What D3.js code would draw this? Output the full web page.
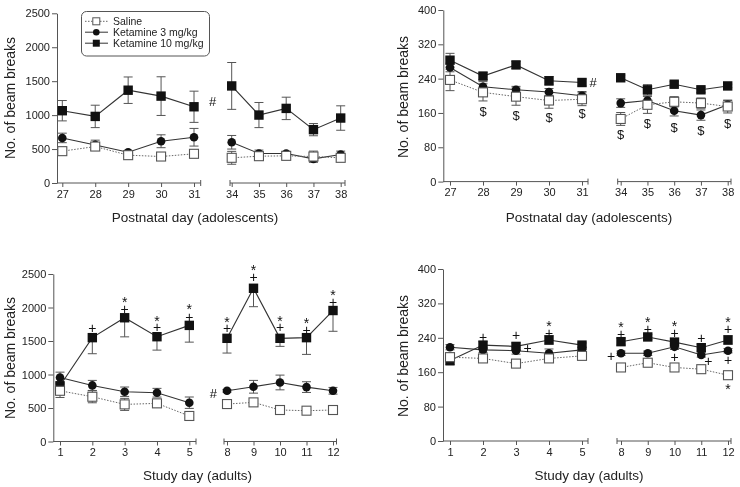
<!DOCTYPE html>
<html><head><meta charset="utf-8">
<script src="https://cdn.jsdelivr.net/npm/d3@7"></script>
<style>
body{margin:0;background:#fff;}
svg{will-change:transform;}
text{font-family:"Liberation Sans",Arial,sans-serif;}
</style></head>
<body><svg id="chart" width="740" height="487"></svg>
<script>
// ---------- DATA ----------
const adolDays1 = [27,28,29,30,31];
const adolDays2 = [34,35,36,37,38];
const adultDays1 = [1,2,3,4,5];
const adultDays2 = [8,9,10,11,12];
const seriesNames = ["Saline","Ketamine 3 mg/kg","Ketamine 10 mg/kg"];

const yTicksLeft = [0,500,1000,1500,2000,2500];
const yTicksRight = [0,80,160,240,320,400];

// Panel A: adolescents, left
const salineA = [469,537,410,390,430,371,395,400,390,371];
const salineAErr = [50,50,30,20,50,95,30,30,80,30];
const k3A = [664,561,454,615,674,600,435,435,356,420];
const k3AErr = [70,70,20,95,130,100,50,30,50,50];
const k10A = [1065,981,1367,1280,1123,1430,1001,1099,786,957];
const k10AErr = [150,165,195,285,230,345,185,165,90,180];

// Panel B: adolescents, right
const salineB = [237,208,198,189,192,146,179,186,183,175];
const salineBErr = [25,20,20,18,15,15,20,12,12,15];
const k3B = [266,221,214,209,200,183,189,165,155,179];
const k3BErr = [10,12,8,8,10,10,10,12,12,10];
const k10B = [283,246,272,235,231,242,214,227,214,223];
const k10BErr = [16,8,8,10,8,6,12,6,6,4];

// Panel C: adults, left
const salineC = [757,668,554,569,381,559,584,470,460,470];
const salineCErr = [100,90,90,60,30,15,40,30,40,50];
const k3C = [955,837,743,728,579,757,817,881,812,757];
const k3CErr = [80,75,70,65,85,20,95,110,80,50];
const k10C = [832,1550,1847,1564,1733,1540,2287,1540,1550,1955];
const k10CErr = [60,240,285,200,250,220,275,120,250,310];

// Panel D: adults, right
const salineD = [195,192,180,192,198,171,182,171,167,153];
const salineDErr = [10,6,8,8,5,5,6,5,5,8];
const k3D = [218,212,210,204,212,204,204,219,200,210];
const k3DErr = [6,6,8,10,6,5,5,6,5,5];
const k10D = [187,223,220,235,223,231,242,230,217,235];
const k10DErr = [10,8,8,10,5,8,6,8,8,10];

// Significance marks: [day, symbol, value-level, dx]
const annotA = [[31,"#",1198,18.7]];
const annotB = [[31,"#",232,11],[28,"$",164],[29,"$",155],[30,"$",149],[31,"$",158],
  [34,"$",110],[35,"$",137],[36,"$",127],[37,"$",120],[38,"$",137]];
const annotC = [[5,"#",720,24],[2,"+",1690],[3,"*",2138],[3,"+",1974],[4,"*",1854],[4,"+",1705],
  [5,"*",2023],[5,"+",1863],[8,"*",1839],[8,"+",1690],[9,"*",2610],[9,"+",2460],
  [10,"*",1854],[10,"+",1705],[11,"*",1814],[11,"+",1665],[12,"*",2236],[12,"+",2087]];
const annotD = [[2,"+",241],[3,"+",246],[3,"+",216,11.7],[4,"*",275],[4,"+",252],
  [8,"*",272],[8,"+",249],[8,"+",198,-10],[9,"*",285],[9,"+",261],[10,"*",275],[10,"+",252],
  [10,"+",196],[11,"+",239],[11,"+",187,7],[12,"*",284],[12,"+",261],[12,"+",188],[12,"*",129]];

// ---------- LAYOUT ----------
const panels = [
  {days1:adolDays1, days2:adolDays2, yTicks:yTicksLeft, series:[salineA,k3A,k10A], errs:[salineAErr,k3AErr,k10AErr],
   annot:annotA, yAxisX:57, y0:183, yTop:13.3, r1:[62.3,194], a1:[57,200.7], r2:[231.7,340.7], a2:[230,345],
   xTitle:"Postnatal day (adolescents)", xtX:195, xtY:222, ytX:15, ytY:98, legend:true, downOnly:[false,false,false]},
  {days1:adolDays1, days2:adolDays2, yTicks:yTicksRight, series:[salineB,k3B,k10B], errs:[salineBErr,k3BErr,k10BErr],
   annot:annotB, yAxisX:443.3, y0:181.6, yTop:10, r1:[450,582], a1:[443.3,588], r2:[620.7,727.7], a2:[617.7,731],
   xTitle:"Postnatal day (adolescents)", xtX:589, xtY:222, ytX:408, ytY:97, downOnly:[false,false,false]},
  {days1:adultDays1, days2:adultDays2, yTicks:yTicksLeft, series:[salineC,k3C,k10C], errs:[salineCErr,k3CErr,k10CErr],
   annot:annotC, yAxisX:53.3, y0:441.5, yTop:274, r1:[60,189.3], a1:[53.3,196], r2:[227,333], a2:[224,336.5],
   xTitle:"Study day (adults)", xtX:197.5, xtY:480, ytX:15, ytY:358, downOnly:[false,false,true]},
  {days1:adultDays1, days2:adultDays2, yTicks:yTicksRight, series:[salineD,k3D,k10D], errs:[salineDErr,k3DErr,k10DErr],
   annot:annotD, yAxisX:443, y0:441, yTop:269, r1:[450,582], a1:[443,588], r2:[621,728], a2:[617,731],
   xTitle:"Study day (adults)", xtX:589, xtY:480, ytX:408, ytY:356, downOnly:[false,false,false]}
];

const svg = d3.select("#chart");
const axisCol = "#555", textCol = "#222", lineCol = "#333", errCol = "#555";

function drawMarker(g, type, x, y){
  if(type===0){
    g.append("rect").attr("x",x-4.5).attr("y",y-4.5).attr("width",9).attr("height",9)
      .attr("fill","#fff").attr("stroke","#555").attr("stroke-width",1.1);
  } else if(type===1){
    g.append("circle").attr("cx",x).attr("cy",y).attr("r",4.3).attr("fill","#111");
  } else {
    g.append("rect").attr("x",x-4.7).attr("y",y-4.7).attr("width",9.4).attr("height",9.4).attr("fill","#111");
  }
}

panels.forEach(p=>{
  const g = svg.append("g");
  const yMax = p.yTicks[p.yTicks.length-1];
  const y = d3.scaleLinear().domain([0,yMax]).range([p.y0,p.yTop]);
  const x1 = d3.scaleLinear().domain([p.days1[0],p.days1[p.days1.length-1]]).range(p.r1);
  const x2 = d3.scaleLinear().domain([p.days2[0],p.days2[p.days2.length-1]]).range(p.r2);
  const allDays = p.days1.concat(p.days2);
  const xOf = d => p.days1.includes(d) ? x1(d) : x2(d);

  // Y axis
  const ya = g.append("g").attr("transform",`translate(${p.yAxisX},0)`)
    .call(d3.axisLeft(y).tickValues(p.yTicks).tickFormat(d3.format("d")).tickSize(5).tickSizeOuter(0).tickPadding(2));
  ya.select(".domain").attr("stroke",axisCol);
  ya.selectAll(".tick line").attr("stroke",axisCol);
  ya.selectAll("text").attr("fill",textCol).style("font-size","11px").style("font-family","'Liberation Sans',Arial,sans-serif");

  // X axis segments
  [[x1,p.days1,p.a1,false],[x2,p.days2,p.a2,true]].forEach(([xs,days,ext,second])=>{
    const xa = g.append("g").attr("transform",`translate(0,${p.y0})`)
      .call(d3.axisBottom(xs).tickValues(days).tickFormat(d3.format("d")).tickSize(4).tickPadding(3));
    xa.select(".domain").remove();
    xa.selectAll(".tick line").attr("stroke",axisCol);
    xa.selectAll("text").attr("fill",textCol).style("font-size","11px").style("font-family","'Liberation Sans',Arial,sans-serif");
    xa.append("line").attr("x1",ext[0]).attr("x2",ext[1]).attr("y1",0).attr("y2",0).attr("stroke",axisCol);
    xa.append("line").attr("x1",ext[1]).attr("x2",ext[1]).attr("y1",-3).attr("y2",3).attr("stroke",axisCol);
    if(second) xa.append("line").attr("x1",ext[0]).attr("x2",ext[0]).attr("y1",-3).attr("y2",3).attr("stroke",axisCol);
  });

  // Titles
  g.append("text").attr("x",p.xtX).attr("y",p.xtY).attr("text-anchor","middle")
    .attr("fill",textCol).style("font-size","13.5px").text(p.xTitle);
  g.append("text").attr("transform",`translate(${p.ytX},${p.ytY}) rotate(-90)`).attr("text-anchor","middle")
    .attr("fill",textCol).style("font-size","14px").text("No. of beam breaks");

  // Lines (per segment)
  const order = [2,1,0];
  order.forEach(si=>{
    const vals = p.series[si];
    const pts = allDays.map((d,i)=>({d, v:vals[i]}));
    [pts.slice(0,5), pts.slice(5)].forEach(seg=>{
      const line = d3.line().x(q=>xOf(q.d)).y(q=>y(q.v));
      g.append("path").attr("d",line(seg)).attr("fill","none")
        .attr("stroke", si===0 ? "#666" : lineCol).attr("stroke-width", si===0?1:1.1)
        .attr("stroke-dasharray", si===0 ? "1.5,1.5" : null);
    });
  });

  // Error bars
  order.forEach(si=>{
    const vals = p.series[si], errs = p.errs[si];
    allDays.forEach((d,i)=>{
      const cx = xOf(d);
      const lo = y(vals[i]-errs[i]);
      const hi = p.downOnly[si] ? y(vals[i]) : y(vals[i]+errs[i]);
      g.append("line").attr("x1",cx).attr("x2",cx).attr("y1",lo).attr("y2",hi).attr("stroke",errCol);
      g.append("line").attr("x1",cx-4.5).attr("x2",cx+4.5).attr("y1",lo).attr("y2",lo).attr("stroke",errCol);
      if(!p.downOnly[si]) g.append("line").attr("x1",cx-4.5).attr("x2",cx+4.5).attr("y1",hi).attr("y2",hi).attr("stroke",errCol);
    });
  });

  // Markers
  order.forEach(si=>{
    const vals = p.series[si];
    allDays.forEach((d,i)=> drawMarker(g, si, xOf(d), y(vals[i])));
  });

  // Annotations: stacked marks at the same position share one text element
  const off = {"*":0.6, "+":0.36, "$":0.36, "#":0.36};
  const fs = {"*":14, "+":14, "$":13, "#":13};
  const groups = d3.groups(p.annot, a => a[0] + "|" + (a[3]||0) + "|" + (a[1]==="$"||a[1]==="#" ? a[1] : "sp"));
  groups.forEach(([key, items])=>{
    items.sort((a,b)=>b[2]-a[2]);
    const f = fs[items[0][1]];
    const cx = xOf(items[0][0]) + (items[0][3]||0);
    const t = g.append("text").attr("text-anchor","middle").attr("fill","#111").style("font-size",f+"px");
    let prev = null;
    items.forEach(a=>{
      const by = y(a[2]) + off[a[1]]*f;
      const ts = t.append("tspan").attr("x",cx).text(a[1]);
      if(prev===null) ts.attr("y",by); else ts.attr("dy",by-prev);
      prev = by;
    });
  });

  // Legend
  if(p.legend){
    const lg = g.append("g");
    lg.append("rect").attr("x",81.5).attr("y",11.5).attr("width",128).attr("height",44.5)
      .attr("rx",5).attr("fill","#fff").attr("stroke","#555");
    const ly = [21.3,32.2,43.2];
    seriesNames.forEach((n,i)=>{
      lg.append("line").attr("x1",85).attr("x2",108).attr("y1",ly[i]).attr("y2",ly[i])
        .attr("stroke", i===0?"#666":lineCol).attr("stroke-dasharray", i===0?"1.5,1.5":null);
      if(i===0){
        lg.append("rect").attr("x",96.3-3.5).attr("y",ly[i]-3.5).attr("width",7).attr("height",7)
          .attr("fill","#fff").attr("stroke","#555");
      } else if(i===1){
        lg.append("circle").attr("cx",96.3).attr("cy",ly[i]).attr("r",3.3).attr("fill","#111");
      } else {
        lg.append("rect").attr("x",96.3-3.5).attr("y",ly[i]-3.5).attr("width",7).attr("height",7).attr("fill","#111");
      }
      lg.append("text").attr("x",113).attr("y",ly[i]+3.8).attr("fill",textCol)
        .style("font-size","10.5px").text(n);
    });
  }
});
</script></body></html>
